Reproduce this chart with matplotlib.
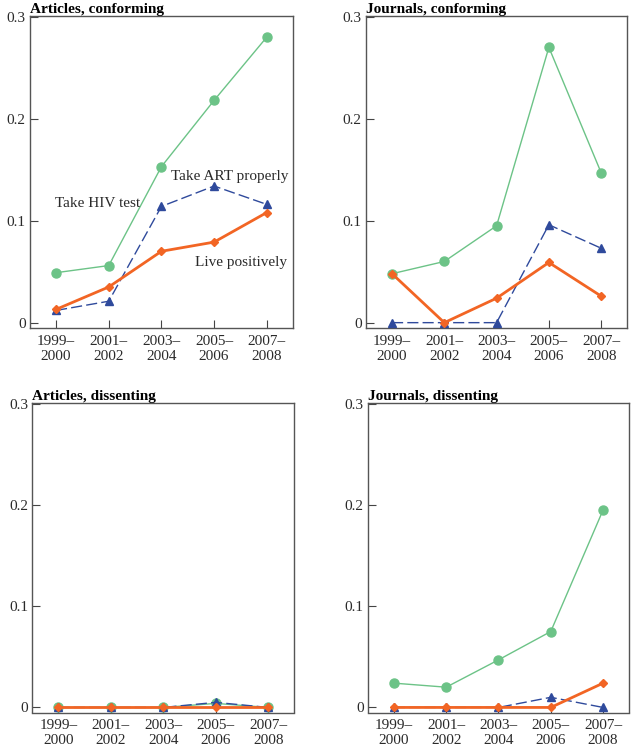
import numpy as np
import matplotlib
matplotlib.use("Agg")
import matplotlib.pyplot as plt

plt.rcParams['font.family'] = ['Liberation Serif', 'DejaVu Serif']

periods = ["1999–\n2000", "2001–\n2002", "2003–\n2004", "2005–\n2006", "2007–\n2008"]
titles = ["Articles, conforming", "Journals, conforming",
          "Articles, dissenting", "Journals, dissenting"]

# Take HIV test
hiv_test = [
    [0.049, 0.056, 0.153, 0.218, 0.280],
    [0.048, 0.060, 0.095, 0.270, 0.147],
    [0.0, 0.0, 0.0, 0.004, 0.0],
    [0.024, 0.020, 0.047, 0.075, 0.195],
]
# Take ART properly
art = [
    [0.012, 0.021, 0.114, 0.134, 0.116],
    [0.0, 0.0, 0.0, 0.096, 0.073],
    [0.0, 0.0, 0.0, 0.005, 0.0],
    [0.0, 0.0, 0.0, 0.010, 0.0],
]
# Live positively
live_pos = [
    [0.013, 0.035, 0.070, 0.079, 0.108],
    [0.048, 0.0, 0.024, 0.059, 0.026],
    [0.0, 0.0, 0.0, 0.0, 0.0],
    [0.0, 0.0, 0.0, 0.0, 0.024],
]

green = '#6cc387'
blue = '#2f4a9c'
orange = '#f26524'

fig = plt.figure(figsize=(6.33, 7.5), dpi=100)
rects = [
    [0.047, 0.563, 0.416, 0.416],
    [0.578, 0.563, 0.413, 0.416],
    [0.051, 0.050, 0.414, 0.413],
    [0.581, 0.050, 0.413, 0.413],
]
x = np.arange(len(periods))

for i, r in enumerate(rects):
    ax = fig.add_axes(r)
    ax.plot(x, hiv_test[i], '-', color=green, lw=1.0, marker='o', ms=6.5, zorder=3)
    ax.plot(x, art[i], '--', color=blue, lw=1.0, dashes=(8, 3), marker='^', ms=5.5, zorder=4)
    ax.plot(x, live_pos[i], '-', color=orange, lw=2.0, marker='D', ms=4, zorder=5)
    ax.set_xlim(-0.5, 4.5)
    ax.set_ylim(-0.005, 0.301)
    ax.set_yticks([0, 0.1, 0.2, 0.3])
    ax.set_yticklabels(['0', '0.1', '0.2', '0.3'])
    ax.set_xticks(x)
    ax.set_xticklabels(periods)
    ax.tick_params(direction='in', length=6, width=0.8, color='#444444',
                   labelsize=11, labelcolor='#2a2a2a')
    ax.tick_params(axis='x', pad=5)
    ax.tick_params(axis='y', pad=3)
    for s in ax.spines.values():
        s.set_color('#555555')
        s.set_linewidth(1.0)
    ax.set_title(titles[i], loc='left', fontsize=11, fontweight='bold', pad=2)
    if i == 0:
        ax.text(3.3, 0.143, "Take ART properly", ha='center', va='center', fontsize=11, color='#2a2a2a')
        ax.text(0.78, 0.117, "Take HIV test", ha='center', va='center', fontsize=11, color='#2a2a2a')
        ax.text(3.52, 0.059, "Live positively", ha='center', va='center', fontsize=11, color='#2a2a2a')

fig.savefig("out.png", dpi=100)
